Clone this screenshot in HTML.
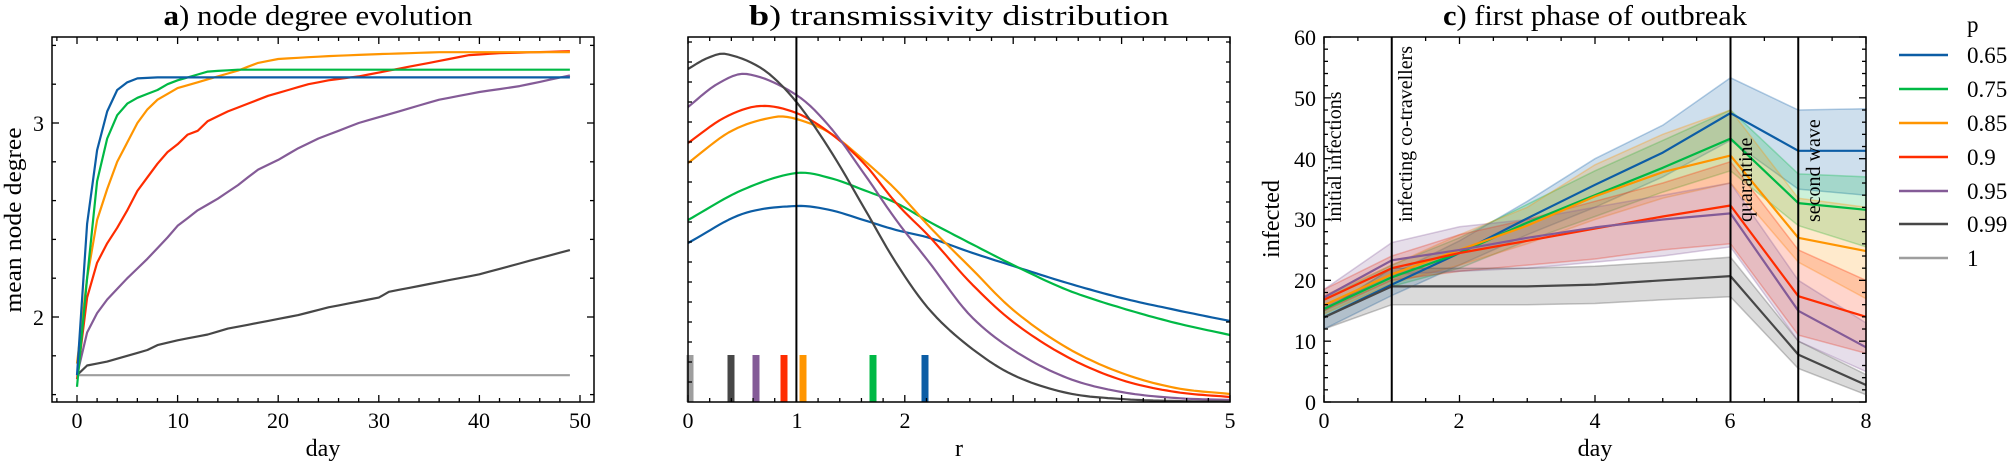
<!DOCTYPE html>
<html><head><meta charset="utf-8"><style>
html,body{margin:0;padding:0;background:#fff;}
svg{display:block;font-family:"Liberation Serif",serif;}
</style></head><body>
<svg id="s" width="2007" height="463" viewBox="0 0 2007 463" xmlns="http://www.w3.org/2000/svg">
<g id="g"></g>
<text x="318" y="25" font-size="28" text-anchor="middle" textLength="309" lengthAdjust="spacingAndGlyphs"><tspan font-weight="bold">a</tspan>) node degree evolution</text>
<text x="959" y="25" font-size="28" text-anchor="middle" textLength="420" lengthAdjust="spacingAndGlyphs"><tspan font-weight="bold">b</tspan>) transmissivity distribution</text>
<text x="1595" y="25" font-size="28" text-anchor="middle" textLength="304" lengthAdjust="spacingAndGlyphs"><tspan font-weight="bold">c</tspan>) first phase of outbreak</text>
<text x="323" y="456" font-size="24" text-anchor="middle">day</text>
<text x="959" y="456" font-size="24" text-anchor="middle">r</text>
<text x="1595" y="456" font-size="24" text-anchor="middle">day</text>
<text transform="translate(21,220) rotate(-90)" font-size="24" text-anchor="middle" textLength="185" lengthAdjust="spacingAndGlyphs">mean node degree</text>
<text transform="translate(1279,219) rotate(-90)" font-size="24" text-anchor="middle" textLength="78" lengthAdjust="spacingAndGlyphs">infected</text>
<text transform="translate(1341,222) rotate(-90)" font-size="20">initial infections</text>
<text transform="translate(1412,222) rotate(-90)" font-size="20">infecting co-travellers</text>
<text transform="translate(1752,222) rotate(-90)" font-size="20">quarantine</text>
<text transform="translate(1820,222) rotate(-90)" font-size="20">second wave</text>
<g font-size="23">
<text x="1967" y="32">p</text>
<text x="1967" y="63">0.65</text>
<text x="1967" y="97">0.75</text>
<text x="1967" y="131">0.85</text>
<text x="1967" y="165">0.9</text>
<text x="1967" y="199">0.95</text>
<text x="1967" y="232">0.99</text>
<text x="1967" y="266">1</text>
</g>
<g font-size="22" text-anchor="middle">
<text x="77" y="428">0</text><text x="178" y="428">10</text><text x="278" y="428">20</text><text x="379" y="428">30</text><text x="479" y="428">40</text><text x="580" y="428">50</text>
<text x="688" y="428">0</text><text x="797" y="428">1</text><text x="905" y="428">2</text><text x="1230" y="428">5</text>
<text x="1324" y="428">0</text><text x="1459" y="428">2</text><text x="1595" y="428">4</text><text x="1730" y="428">6</text><text x="1866" y="428">8</text>
</g>
<g font-size="22" text-anchor="end">
<text x="44" y="131">3</text><text x="44" y="325">2</text>
<text x="1316" y="410">0</text><text x="1316" y="349">10</text><text x="1316" y="288">20</text><text x="1316" y="227">30</text><text x="1316" y="167">40</text><text x="1316" y="106">50</text><text x="1316" y="45">60</text>
</g>
</svg>
<script>
var NS="http://www.w3.org/2000/svg",G=document.getElementById("g");
function el(t,a){var e=document.createElementNS(NS,t);for(var k in a)e.setAttribute(k,a[k]);G.appendChild(e);return e;}
var C={b:"#0C5DA5",g:"#00B945",o:"#FF9500",r:"#FF2C00",p:"#845B97",k:"#474747",y:"#9e9e9e"};
function line(x1,y1,x2,y2,c,w){el("line",{x1:x1,y1:y1,x2:x2,y2:y2,stroke:c||"#000","stroke-width":w||1.3});}
function poly(pts,c,w){el("polyline",{points:pts.map(function(p){return p[0].toFixed(1)+","+p[1].toFixed(1)}).join(" "),fill:"none",stroke:c,"stroke-width":w||2.2,"stroke-linejoin":"round"});}
function interp(arr,x){for(var i=0;i<arr.length-1;i++){if(x<=arr[i+1][0]){var t=(x-arr[i][0])/(arr[i+1][0]-arr[i][0]);return arr[i][1]+t*(arr[i+1][1]-arr[i][1]);}}return arr[arr.length-1][1];}
function smooth(arr,a,b,n){var o=[];for(var i=0;i<=n;i++){var x=a+(b-a)*i/n;o.push([x,cr(arr,x)]);}return o;}
function cr(P,x){var i=0;while(i<P.length-2&&x>P[i+1][0])i++;var p0=P[Math.max(i-1,0)],p1=P[i],p2=P[i+1],p3=P[Math.min(i+2,P.length-1)];var t=(x-p1[0])/(p2[0]-p1[0]);var m1=(p2[1]-p0[1])/(p2[0]-p0[0])*(p2[0]-p1[0]),m2=(p3[1]-p1[1])/(p3[0]-p1[0])*(p2[0]-p1[0]);var t2=t*t,t3=t2*t;return (2*t3-3*t2+1)*p1[1]+(t3-2*t2+t)*m1+(-2*t3+3*t2)*p2[1]+(t3-t2)*m2;}
function ticks(L,R,T,B,xs,xmaj,ys,ymaj){
 xs.forEach(function(x){var l=xmaj.indexOf(x)>=0?7:4;line(x,B,x,B-l);line(x,T,x,T+l);});
 ys.forEach(function(y){var l=ymaj.indexOf(y)>=0?7:4;line(L,y,L+l,y);line(R,y,R-l,y);});
}
(function(){var L=52,R=594,T=37,B=402;
 function X(d){return 77+10.06*d;} function Y(v){return 317-194*(v-2);}
 var xs=[],xm=[];for(var d=-2;d<=50;d+=2){xs.push(X(d));if(d%10==0)xm.push(X(d));}
 var ys=[],ym=[];for(var v=16;v<=34;v+=2){ys.push(Y(v/10));if(v%10==0)ym.push(Y(v/10));}
 function S(k,pts){var a=[];for(var d=0;d<=49;d++)a.push([X(d),Y(interp(pts,d))]);poly(a,C[k]);}
 S("y",[[0,1.7],[49,1.7]]);
 S("k",[[0,1.7],[1,1.75],[3,1.77],[5,1.8],[7,1.83],[8,1.855],[10,1.88],[13,1.91],[15,1.94],[18,1.97],[20,1.99],[22,2.01],[25,2.05],[28,2.08],[30,2.1],[31,2.13],[35,2.17],[40,2.22],[45,2.29],[49,2.345]]);
 S("p",[[0,1.7],[1,1.92],[2,2.02],[3,2.09],[5,2.2],[7,2.3],[9,2.41],[10,2.47],[12,2.55],[14,2.61],[16,2.68],[18,2.76],[20,2.81],[22,2.87],[24,2.92],[26,2.96],[28,3.0],[30,3.03],[32,3.06],[34,3.09],[36,3.12],[40,3.16],[44,3.19],[49,3.245]]);
 S("r",[[0,1.68],[1,2.1],[2,2.28],[3,2.38],[4,2.46],[5,2.55],[6,2.65],[7,2.72],[8,2.79],[9,2.85],[10,2.89],[11,2.94],[12,2.96],[13,3.01],[15,3.06],[17,3.1],[19,3.14],[21,3.17],[23,3.2],[25,3.22],[28,3.24],[30,3.26],[33,3.29],[36,3.32],[39,3.35],[42,3.36],[49,3.37]]);
 S("o",[[0,1.76],[1,2.2],[2,2.5],[3,2.66],[4,2.8],[5,2.9],[6,3.0],[7,3.07],[8,3.12],[9,3.15],[10,3.18],[12,3.21],[14,3.24],[16,3.27],[18,3.31],[20,3.33],[25,3.345],[30,3.355],[36,3.365],[49,3.365]]);
 S("g",[[0,1.64],[1,2.2],[2,2.7],[3,2.92],[4,3.04],[5,3.1],[6,3.13],[7,3.15],[8,3.17],[9,3.2],[10,3.22],[12,3.25],[13,3.265],[16,3.275],[49,3.275]]);
 S("b",[[0,1.7],[1,2.48],[2,2.86],[3,3.06],[4,3.17],[5,3.21],[6,3.23],[8,3.235],[49,3.235]]);
 ticks(L,R,T,B,xs,xm,ys,ym);
 el("rect",{x:L,y:T,width:R-L,height:B-T,fill:"none",stroke:"#000","stroke-width":1.5});
})();
(function(){var L=688,R=1230,T=37,B=402;function X(r){return L+108.4*r;}
 var rug=[[690,"y"],[731,"k"],[756,"p"],[784,"r"],[803,"o"],[873,"g"],[925,"b"]];
 rug.forEach(function(q){el("rect",{x:q[0]-3.5,y:355,width:7,height:47,fill:C[q[1]]});});
 var D={
 b:[[0,243],[0.5,214],[1,206],[1.31,210],[1.62,220],[1.92,230],[2.23,238],[2.6,252],[3,266],[3.5,283],[4,298],[4.5,310],[5,321]],
 g:[[0,220],[0.5,190],[1,173],[1.31,178],[1.62,190],[1.92,203],[2.23,222],[2.6,243],[3,265],[3.5,290],[4,308],[4.5,323],[5,335]],
 o:[[0,163],[0.4,131],[0.8,117],[1,119],[1.31,133],[1.62,160],[1.92,190],[2.23,227],[2.6,267],[3,310],[3.5,348],[4,373],[4.5,388],[5,394]],
 r:[[0,143],[0.33,118],[0.66,106],[1,113],[1.31,133],[1.62,163],[1.92,203],[2.23,237],[2.6,282],[3,322],[3.5,357],[4,380],[4.5,392],[5,397]],
 p:[[0,107],[0.27,84],[0.54,74],[1,95],[1.31,127],[1.62,173],[1.92,220],[2.23,263],[2.6,315],[3,350],[3.5,378],[4,392],[4.5,398],[5,400]],
 k:[[0,69],[0.18,58],[0.35,54],[0.7,70],[1,102],[1.31,150],[1.62,207],[1.92,263],[2.23,310],[2.6,347],[3,375],[3.5,393],[4,399],[4.5,401],[5,401.5]]};
 ["b","g","o","r","p","k"].forEach(function(k){poly(smooth(D[k],0,5,120).map(function(p){return [X(p[0]),p[1]];}),C[k]);});
 line(X(1),T,X(1),B,"#000",2);
 var xs=[],xm=[];for(var i=0;i<=25;i++){xs.push(X(i*0.2));if(i%5==0)xm.push(X(i*0.2));}
 var ys=[];for(var y=382;y>T;y-=20)ys.push(y);
 ticks(L,R,T,B,xs,xm,ys,[]);
 el("rect",{x:L,y:T,width:R-L,height:B-T,fill:"none",stroke:"#000","stroke-width":1.5});
})();
(function(){var L=1324,R=1866,T=37,B=402;function X(d){return L+67.75*d;}function Y(v){return B-6.083*v;}
 var S={
 b:{m:[13.9,19.3,24.5,30.2,35.7,41,47.5,41.3,41.3],lo:[12,17.5,22.5,27.5,32,37,43,35,34],hi:[15.5,21,26.5,33,40,45.5,53.3,48,48.2]},
 g:{m:[15.3,20.5,24.5,29.5,34,38.5,43.3,32.7,31.6],lo:[14,19,22,26.5,30.5,34.5,38,29,25.5],hi:[17,22.5,27,32.5,38,43,48,37.5,37]},
 o:{m:[15.9,21,25,29,33.8,37.8,40.5,27,24.8],lo:[14.5,19.5,22.5,26,30,33.5,36,23,17],hi:[17.5,22.5,27.5,32,39,44,48,33.5,32]},
 r:{m:[16.8,22,24.5,26.5,28.5,30.5,32.3,17.4,14],lo:[15,20,21.5,22.5,23.5,25,26,11,8],hi:[18.5,24,27.5,30,33,36,39.5,25,20]},
 p:{m:[17.2,23.3,25,27,28.7,30,31,15,9],lo:[15.5,21,21.5,22,23,24,25.5,10,5],hi:[18.5,26.2,28.8,30,32,34,36,20,13]},
 k:{m:[13.9,19,19,19,19.3,20,20.7,7.8,2.8],lo:[12,16,16,16,16.2,16.8,17.3,5.5,1.2],hi:[15,22,22,22,22.3,23,23.8,10,4.5]}};
 var order=["b","g","o","r","p","k"];
 order.forEach(function(k){var s=S[k],pts=[];for(var d=0;d<=8;d++)pts.push(X(d).toFixed(1)+","+Y(s.hi[d]).toFixed(1));for(var d=8;d>=0;d--)pts.push(X(d).toFixed(1)+","+Y(s.lo[d]).toFixed(1));
  el("polygon",{points:pts.join(" "),fill:C[k],"fill-opacity":0.2,stroke:C[k],"stroke-opacity":0.3,"stroke-width":1.5});});
 order.forEach(function(k){var a=[];for(var d=0;d<=8;d++)a.push([X(d),Y(S[k].m[d])]);poly(a,C[k]);});
 [1,6,7].forEach(function(d){line(X(d),T,X(d),B,"#000",2);});
 var xs=[],xm=[];for(var i=0;i<=16;i++){xs.push(X(i*0.5));if(i%4==0)xm.push(X(i*0.5));}
 var ys=[],ym=[];for(var v=0;v<=60;v+=2){ys.push(Y(v));if(v%10==0)ym.push(Y(v));}
 ticks(L,R,T,B,xs,xm,ys,ym);
 el("rect",{x:L,y:T,width:R-L,height:B-T,fill:"none",stroke:"#000","stroke-width":1.5});
 var ly=[55,89,123,157,191,224,258],lk=["b","g","o","r","p","k","y"];
 lk.forEach(function(k,i){line(1899,ly[i],1948,ly[i],C[k],2.6);});
})();
</script>
</body></html>
